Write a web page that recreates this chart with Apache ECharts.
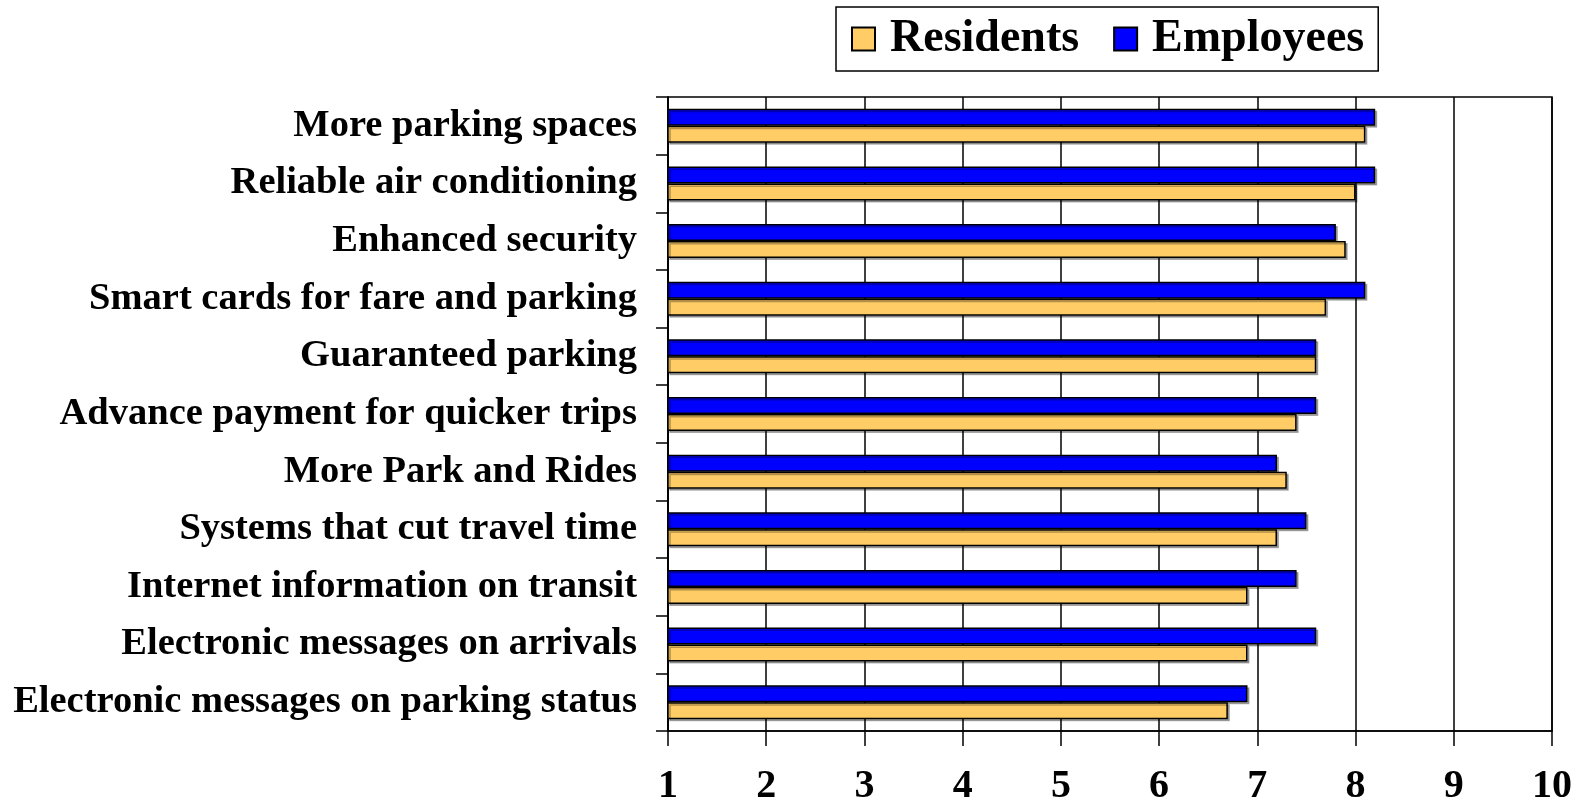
<!DOCTYPE html>
<html>
<head>
<meta charset="utf-8">
<script src="https://cdn.jsdelivr.net/npm/echarts@6/dist/echarts.min.js"></script>
<style>
html,body{margin:0;padding:0;background:#fff;}
#c{width:1581px;height:807px;}
</style>
</head>
<body>
<div id="c"></div>
<script>
var categories = [
  "More parking spaces",
  "Reliable air conditioning",
  "Enhanced security",
  "Smart cards for fare and parking",
  "Guaranteed parking",
  "Advance payment for quicker trips",
  "More Park and Rides",
  "Systems that cut travel time",
  "Internet information on transit",
  "Electronic messages on arrivals",
  "Electronic messages on parking status"
];
var residents = [8.1, 8.0, 7.9, 7.7, 7.6, 7.4, 7.3, 7.2, 6.9, 6.9, 6.7];
var employees = [8.2, 8.2, 7.8, 8.1, 7.6, 7.6, 7.2, 7.5, 7.4, 7.6, 6.9];
var xTicks = [1, 2, 3, 4, 5, 6, 7, 8, 9, 10];

var font = '"Liberation Serif", "Times New Roman", serif';
var barStyle = function (c) {
  return {
    color: c, borderColor: '#000', borderWidth: 1.5,
    shadowColor: 'rgba(0,0,0,0.3)', shadowOffsetX: 2, shadowOffsetY: 2, shadowBlur: 0
  };
};
var chart = echarts.init(document.getElementById('c'), null, {renderer: 'canvas'});
chart.setOption({
  backgroundColor: '#fff',
  animation: false,
  legend: {
    data: ['Residents', 'Employees'],
    icon: 'rect',
    left: 836, top: 7,
    padding: [9, 14, 9, 15],
    itemGap: 34,
    itemWidth: 23, itemHeight: 23,
    borderColor: '#000', borderWidth: 1.5,
    textStyle: {fontFamily: font, fontWeight: 'bold', fontSize: 46, color: '#000', padding: [4, 0, 0, 10]}
  },
  grid: {
    left: 668, right: 29, top: 97, bottom: 74,
    show: true, borderColor: '#000', borderWidth: 1.5
  },
  xAxis: {
    type: 'value', min: xTicks[0], max: xTicks[xTicks.length - 1], interval: 1,
    axisLine: {show: true, lineStyle: {color: '#000', width: 1.5}},
    axisTick: {show: true, length: 15, lineStyle: {color: '#000', width: 1.5}},
    splitLine: {show: true, lineStyle: {color: '#000', width: 1.5}},
    axisLabel: {margin: 36, fontFamily: font, fontWeight: 'bold', fontSize: 40, color: '#000'}
  },
  yAxis: {
    type: 'category', data: categories, inverse: true,
    axisLine: {show: true, lineStyle: {color: '#000', width: 1.5}},
    axisTick: {show: true, length: 12, lineStyle: {color: '#000', width: 1.5}},
    axisLabel: {margin: 31, fontFamily: font, fontWeight: 'bold', fontSize: 38.5, color: '#000', padding: [5, 0, 0, 0]}
  },
  series: [
    {name: 'Employees', type: 'bar', data: employees, barWidth: 17, barGap: '0%', itemStyle: barStyle('#0000FF')},
    {name: 'Residents', type: 'bar', data: residents, barWidth: 17, barGap: '0%', itemStyle: barStyle('#FFCC66')}
  ]
});
</script>
</body>
</html>
